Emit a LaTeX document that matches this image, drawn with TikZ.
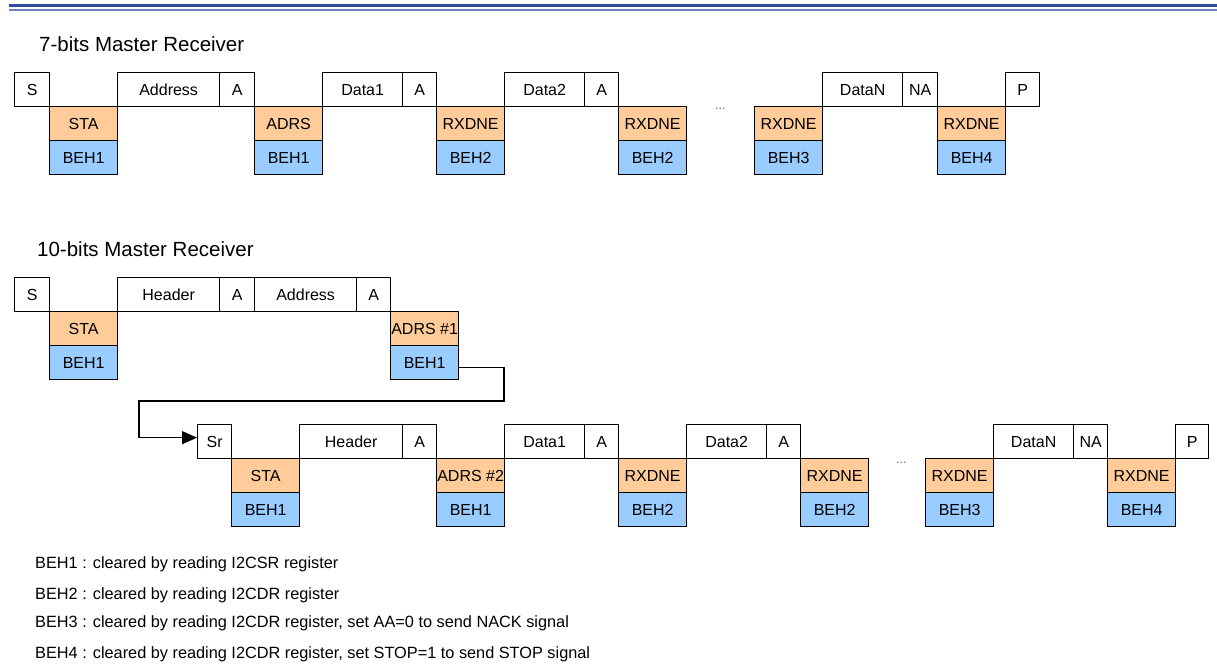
\documentclass[tikz,border=0pt]{standalone}
\usepackage{fontspec}
\setmainfont{Liberation Sans}
\usetikzlibrary{arrows.meta}
\definecolor{flagorange}{HTML}{FFCC99}
\definecolor{behblue}{HTML}{99CCFF}
\definecolor{rulenavy}{HTML}{2E4A9A}
\definecolor{ruleblue}{HTML}{6F82C2}
\newcommand{\boxfont}{\fontsize{16pt}{19pt}\selectfont}
\newcommand{\notefont}{\fontsize{16.3pt}{19pt}\selectfont}
\newcommand{\headfont}{\fontsize{20.5pt}{24pt}\selectfont}
\begin{document}
\begin{tikzpicture}[x=1pt, y=-1pt, >={Triangle[length=15pt,width=13pt]},
    cell/.style={draw, line width=1.3pt, inner sep=0pt, minimum height=34pt, anchor=north west, font=\boxfont},
    flag/.style={cell, fill=flagorange, minimum width=68pt},
    beh/.style={cell, fill=behblue, minimum width=68pt},
    dots/.style={inner sep=0pt, anchor=base west, text=black!60, font=\fontsize{12.5pt}{14pt}\selectfont},
    head/.style={inner sep=0pt, anchor=base west, font=\headfont},
    note/.style={inner sep=0pt, anchor=base west, font=\notefont}]
    \useasboundingbox (0,0) rectangle (1217,668);
    \draw[line width=3pt, rulenavy] (9,5.5) -- (1217,5.5);
    \draw[line width=1.5pt, ruleblue] (9,10.2) -- (1217,10.2);
    % 7-bit address
    \node[head] (title7) at (39,52) {7-bits Master Receiver};
    \node[cell, minimum width=35pt] (s1) at (14,72) {S};
    \node[flag] (sta1) at (49,106) {STA};
    \node[beh] (beh1a) at (49,140) {BEH1};
    \node[cell, minimum width=102pt] (addr1) at (117,72) {Address};
    \node[cell, minimum width=35pt] (ack1a) at (219,72) {A};
    \node[flag] (adrs1) at (254,106) {ADRS};
    \node[beh] (beh1b) at (254,140) {BEH1};
    \node[cell, minimum width=80pt] (data1a) at (322,72) {Data1};
    \node[cell, minimum width=34pt] (ack1b) at (402,72) {A};
    \node[flag] (rx1a) at (436,106) {RXDNE};
    \node[beh] (beh2a) at (436,140) {BEH2};
    \node[cell, minimum width=80pt] (data2a) at (504,72) {Data2};
    \node[cell, minimum width=34pt] (ack1c) at (584,72) {A};
    \node[flag] (rx1b) at (618,106) {RXDNE};
    \node[beh] (beh2b) at (618,140) {BEH2};
    \node[dots] (dots1) at (715,110) {...};
    \node[flag] (rx1c) at (754,106) {RXDNE};
    \node[beh] (beh3a) at (754,140) {BEH3};
    \node[cell, minimum width=80pt] (datan1) at (822,72) {DataN};
    \node[cell, minimum width=35pt] (nack1) at (902,72) {NA};
    \node[flag] (rx1d) at (937,106) {RXDNE};
    \node[beh] (beh4a) at (937,140) {BEH4};
    \node[cell, minimum width=34pt] (p1) at (1005,72) {P};
    % 10-bit address, header part
    \node[head] (title10) at (37,257) {10-bits Master Receiver};
    \node[cell, minimum width=35pt] (s2) at (14,277) {S};
    \node[flag] (sta2) at (49,311) {STA};
    \node[beh] (beh1c) at (49,345) {BEH1};
    \node[cell, minimum width=102pt] (hdr2) at (117,277) {Header};
    \node[cell, minimum width=35pt] (ack2a) at (219,277) {A};
    \node[cell, minimum width=102pt] (addr2) at (254,277) {Address};
    \node[cell, minimum width=34pt] (ack2b) at (356,277) {A};
    \node[flag] (adrs2a) at (390,311) {ADRS \#1};
    \node[beh] (beh1d) at (390,345) {BEH1};
    % 10-bit address, restart part
    \node[cell, minimum width=34pt] (sr) at (197,424) {Sr};
    \node[flag] (sta3) at (231,458) {STA};
    \node[beh] (beh1e) at (231,492) {BEH1};
    \node[cell, minimum width=103pt] (hdr3) at (299,424) {Header};
    \node[cell, minimum width=34pt] (ack3a) at (402,424) {A};
    \node[flag] (adrs2b) at (436,458) {ADRS \#2};
    \node[beh] (beh1f) at (436,492) {BEH1};
    \node[cell, minimum width=80pt] (data1b) at (504,424) {Data1};
    \node[cell, minimum width=34pt] (ack3b) at (584,424) {A};
    \node[flag] (rx3a) at (618,458) {RXDNE};
    \node[beh] (beh2c) at (618,492) {BEH2};
    \node[cell, minimum width=80pt] (data2b) at (686,424) {Data2};
    \node[cell, minimum width=34pt] (ack3c) at (766,424) {A};
    \node[flag] (rx3b) at (800,458) {RXDNE};
    \node[beh] (beh2d) at (800,492) {BEH2};
    \node[dots] (dots2) at (896,463) {...};
    \node[flag] (rx3c) at (925,458) {RXDNE};
    \node[beh] (beh3b) at (925,492) {BEH3};
    \node[cell, minimum width=80pt] (datan2) at (993,424) {DataN};
    \node[cell, minimum width=34pt] (nack2) at (1073,424) {NA};
    \node[flag] (rx3d) at (1107,458) {RXDNE};
    \node[beh] (beh4b) at (1107,492) {BEH4};
    \node[cell, minimum width=33pt] (p2) at (1175,424) {P};
    % wrap to the second line
    \coordinate (wrapr) at (504,401);
    \coordinate (wrapl) at (139,401);
    \draw[->, line width=1.3pt] ([yshift=-5pt]beh1d.east) -| (wrapr) -- (wrapl) |- ([yshift=4pt]sr.west);
    % legend
    \node[note] (note1) at (35,568) {BEH1 : cleared by reading I2CSR register};
    \node[note] (note2) at (35,599) {BEH2 : cleared by reading I2CDR register};
    \node[note] (note3) at (35,627) {BEH3 : cleared by reading I2CDR register, set AA=0 to send NACK signal};
    \node[note] (note4) at (35,658) {BEH4 : cleared by reading I2CDR register, set STOP=1 to send STOP signal};
\end{tikzpicture}
\end{document}
